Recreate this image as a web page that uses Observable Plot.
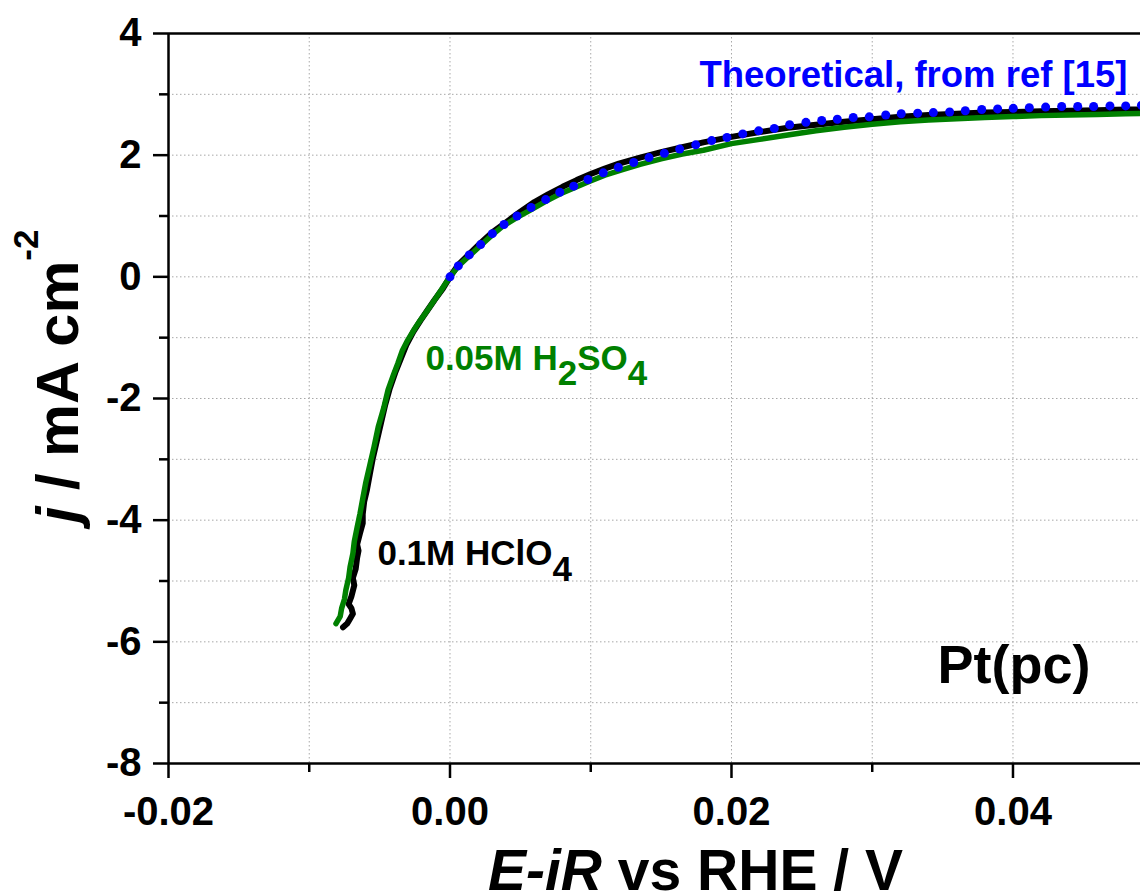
<!DOCTYPE html>
<html><head><meta charset="utf-8">
<script src="https://cdn.jsdelivr.net/npm/d3@7"></script>
<script src="https://cdn.jsdelivr.net/npm/@observablehq/plot@0.6"></script>
<style>body{margin:0;background:#fff;overflow:hidden}</style>
</head><body><div id="chart"></div>
<script>
// Theoretical curve (blue dots)
const theoX = [0.0000,0.00059,0.00137,0.00218,0.00301,0.00384,0.00476,0.00576,0.00680,0.00780,0.00879,0.00980,0.01089,0.01196,0.01305,0.01414,0.01523,0.01632,0.01746,0.01859,0.01968,0.02080,0.02193,0.02304,0.02413,0.02529,0.02641,0.02752,0.02865,0.02979,0.03096,0.03206,0.03323,0.03434,0.03550,0.03661,0.03778,0.03891,0.04002,0.04116,0.04232,0.04346,0.04460,0.04573,0.04689,0.04801,0.04913];
const theoY = [0.00,0.18,0.36,0.53,0.71,0.86,1.00,1.14,1.27,1.39,1.49,1.60,1.71,1.80,1.88,1.96,2.03,2.10,2.17,2.24,2.29,2.35,2.40,2.44,2.50,2.54,2.57,2.59,2.62,2.63,2.66,2.68,2.69,2.70,2.71,2.73,2.75,2.76,2.77,2.78,2.79,2.80,2.80,2.80,2.81,2.81,2.82];
// 0.1M HClO4 (black)
const hclo4X = [-0.0076,-0.0073,-0.0071,-0.0069,-0.0070,-0.0072,-0.0070,-0.0068,-0.0069,-0.0067,-0.0066,-0.0065,-0.0066,-0.0064,-0.0062,-0.0062,-0.0061,-0.0059,-0.0057,-0.0055,-0.0052,-0.0049,-0.0046,-0.0043,-0.0039,-0.0035,-0.0031,-0.0026,-0.0021,-0.0016,-0.0011,-0.0005,0.0000,0.0006,0.0014,0.0022,0.0030,0.0040,0.0050,0.0060,0.0070,0.0080,0.0090,0.0100,0.0110,0.0120,0.0135,0.0150,0.0165,0.0180,0.0200,0.0220,0.0240,0.0260,0.0280,0.0300,0.0320,0.0340,0.0360,0.0380,0.0400,0.0420,0.0440,0.0460,0.0480,0.0500];
const hclo4Y = [-5.76,-5.70,-5.62,-5.54,-5.45,-5.38,-5.25,-5.07,-4.95,-4.80,-4.62,-4.50,-4.40,-4.22,-4.05,-3.90,-3.70,-3.50,-3.25,-3.00,-2.70,-2.40,-2.10,-1.85,-1.58,-1.35,-1.12,-0.90,-0.72,-0.55,-0.38,-0.19,0.00,0.20,0.38,0.56,0.73,0.90,1.07,1.23,1.36,1.48,1.59,1.69,1.78,1.86,1.96,2.05,2.13,2.21,2.30,2.38,2.45,2.50,2.55,2.59,2.63,2.66,2.68,2.70,2.71,2.72,2.73,2.74,2.75,2.75];
// 0.05M H2SO4 (green)
const h2so4X = [-0.0081,-0.0078,-0.0077,-0.0075,-0.0074,-0.0072,-0.0071,-0.0069,-0.0068,-0.0066,-0.0064,-0.0062,-0.0060,-0.0057,-0.0054,-0.0051,-0.0047,-0.0044,-0.0040,-0.0037,-0.0034,-0.0030,-0.0025,-0.0021,-0.0016,-0.0011,-0.0006,0.0000,0.0006,0.0014,0.0022,0.0030,0.0038,0.0048,0.0058,0.0068,0.0078,0.0088,0.0098,0.0110,0.0122,0.0135,0.0150,0.0165,0.0180,0.0200,0.0220,0.0240,0.0260,0.0280,0.0300,0.0320,0.0340,0.0360,0.0380,0.0400,0.0420,0.0440,0.0460,0.0480,0.0500];
const h2so4Y = [-5.70,-5.58,-5.45,-5.30,-5.15,-4.95,-4.77,-4.55,-4.35,-4.12,-3.90,-3.65,-3.40,-3.10,-2.80,-2.47,-2.15,-1.86,-1.60,-1.42,-1.22,-1.04,-0.85,-0.71,-0.55,-0.38,-0.21,0.00,0.18,0.35,0.52,0.69,0.84,0.98,1.11,1.24,1.36,1.46,1.56,1.67,1.76,1.85,1.94,2.02,2.08,2.19,2.26,2.33,2.40,2.46,2.51,2.55,2.58,2.60,2.62,2.635,2.65,2.66,2.67,2.68,2.69];

const xMajorTicks = [-0.02, 0, 0.02, 0.04];
const xMinorTicks = [-0.01, 0.01, 0.03];
const xGrid = [-0.02, -0.01, 0, 0.01, 0.02, 0.03, 0.04];
const yMajorTicks = [-8, -6, -4, -2, 0, 2, 4];
const yMinorTicks = [-7, -5, -3, -1, 1, 3];
const yGrid = [-8, -7, -6, -5, -4, -3, -2, -1, 0, 1, 2, 3, 4];

const toRows = (xs, ys) => xs.map((x, i) => ({x, y: ys[i]}));
const theo = toRows(theoX, theoY);
const hclo4 = toRows(hclo4X, hclo4Y);
const h2so4 = toRows(h2so4X, h2so4Y);

const FONT = "'Liberation Sans', Arial, Helvetica, sans-serif";
const gridStyle = {stroke: "#a8a8a8", strokeOpacity: 1, strokeWidth: 1, strokeDasharray: "1.5,2.5"};

const plot = Plot.plot({
  width: 1140,
  height: 895,
  marginLeft: 168,
  marginRight: 0,
  marginTop: 33,
  marginBottom: 132,
  style: {fontFamily: FONT, fontWeight: "bold", color: "#000", background: "#fff"},
  x: {domain: [-0.02, 0.04906]},
  y: {domain: [-8, 4]},
  marks: [
    Plot.gridX(xGrid, gridStyle),
    Plot.gridY(yGrid, gridStyle),
    Plot.axisY(yMinorTicks, {tickSize: 9, text: null, strokeWidth: 2.5, label: null}),
    Plot.axisY(yMajorTicks, {tickSize: 15, tickPadding: 12, fontSize: 40, fontWeight: "bold", strokeWidth: 2.5, tickFormat: d => String(d), label: null}),
    Plot.axisX(xMinorTicks, {tickSize: 9, text: null, strokeWidth: 2.5, label: null}),
    Plot.axisX(xMajorTicks, {tickSize: 15, tickPadding: 18, fontSize: 40, fontWeight: "bold", strokeWidth: 2.5, tickFormat: d => d.toFixed(2), label: null}),
    Plot.ruleX([-0.02], {strokeWidth: 2.5}),
    Plot.ruleY([-8, 4], {strokeWidth: 2.5}),
    Plot.line(hclo4, {x: "x", y: "y", stroke: "#000", strokeWidth: 6, strokeLinejoin: "round", strokeLinecap: "round", clip: true}),
    Plot.line(h2so4, {x: "x", y: "y", stroke: "#008000", strokeWidth: 5.5, strokeLinejoin: "round", strokeLinecap: "round", clip: true}),
    Plot.dot(theo, {x: "x", y: "y", r: 4.5, fill: "#0000ff", stroke: "none", clip: true})
  ]
});
document.getElementById("chart").appendChild(plot);

// Rich-text annotations (italics, sub/superscripts), positioned through Plot's scales
const sx = v => plot.scale("x").apply(v);
const sy = v => plot.scale("y").apply(v);
const svg = d3.select(plot);
const g = svg.append("g").attr("font-family", FONT).attr("font-weight", "bold").attr("text-anchor", "start");

function rich(x, y, size, color, parts, attrs = {}) {
  const t = g.append("text").attr("x", x).attr("y", y).attr("font-size", size).attr("fill", color).attr("text-anchor", "start");
  for (const [k, v] of Object.entries(attrs)) t.attr(k, v);
  for (const p of parts) {
    const s = t.append("tspan").text(p.t);
    if (p.italic) s.attr("font-style", "italic");
    if (p.size) s.attr("font-size", p.size);
    if (p.dy) s.attr("dy", p.dy);
  }
  return t;
}

// Series labels
rich(sx(0.01776), sy(3.12), 36.5, "#0000ff", [{t: "Theoretical, from ref [15]"}]);
rich(sx(-0.00171), sy(-1.535), 35, "#008000", [
  {t: "0.05M H"}, {t: "2", dy: 15}, {t: "SO", dy: -15}, {t: "4", dy: 15}
]);
rich(sx(-0.00512), sy(-4.74), 35, "#000", [
  {t: "0.1M HClO"}, {t: "4", dy: 16}
]);
rich(sx(0.03467), sy(-6.68), 54, "#000", [{t: "Pt(pc)"}]);

// Axis titles
rich(488, 890, 57, "#000", [{t: "E-iR", italic: true}, {t: " vs RHE / V"}]);
rich(0, 0, 59.5, "#000", [
  {t: "j", italic: true}, {t: " / mA cm"}, {t: "-2", size: 35, dy: -40}
], {transform: "translate(78,523) rotate(-90)"});
</script>
</body></html>
